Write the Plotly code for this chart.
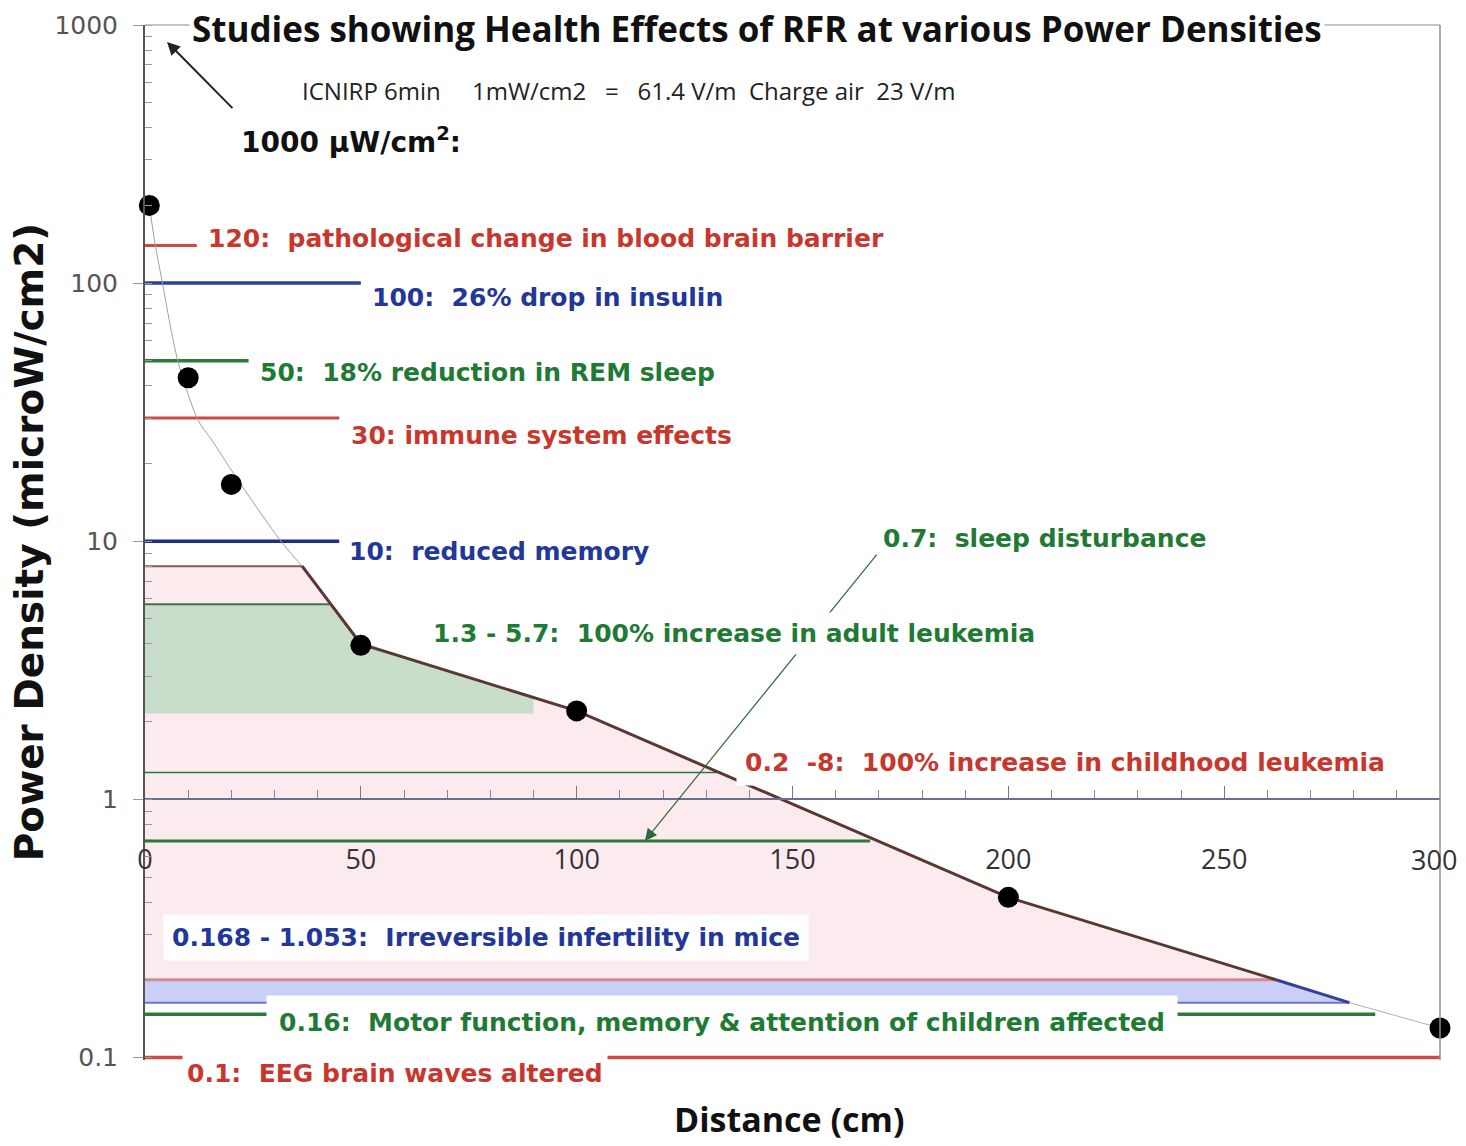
import plotly.graph_objects as go
import math

# ---------------- data ----------------
distance_cm = [1, 10, 20, 50, 100, 200, 300]
power_density = [200, 43, 16.6, 3.95, 2.2, 0.417, 0.13]

# thin fitted curve (upper part) and tail
fit_x = [1, 2.3, 3.9, 7.6, 12.3, 15.5, 22.2, 31.3, 36.4]
fit_y = [200, 143, 103, 50, 29.4, 24.6, 16.6, 10.1, 8]
tail_x = [279, 300]
tail_y = [0.163, 0.13]

# thick boundary curve
bound_x = [36.4, 50, 100, 200, 262]
bound_y = [8, 4, 2.2, 0.417, 0.2]
bound_blue_x = [262, 279]
bound_blue_y = [0.2, 0.163]

# shaded study ranges (polygons)
child_x = [0, 0, 36.4, 50, 100, 200, 262]
child_y = [0.2, 8, 8, 4, 2.2, 0.417, 0.2]
adult_x = [0, 0, 43, 50, 90, 90]
adult_y = [2.15, 5.7, 5.7, 4, 2.45, 2.15]
adult_top_x = [0, 43, 50]
adult_top_y = [5.7, 5.7, 4]
child_top_x = [0, 36.4, 50]
child_top_y = [8, 8, 4]
infert_x = [0, 0, 262, 279]
infert_y = [0.163, 0.2, 0.2, 0.163]

# threshold lines: level and end distance
levels = [140, 100, 50, 30, 10, 1.27, 0.69, 0.2, 0.163, 0.147, 0.1]
level_ends = [12, 50, 24, 45, 45, 132.5, 168, 262, 279, 285, 300]

labels = [
    "120:\u00a0 pathological change in blood brain barrier",
    "100:\u00a0 26% drop in insulin",
    "50:\u00a0 18% reduction in REM sleep",
    "30: immune system effects",
    "10:\u00a0 reduced memory",
    "0.7:\u00a0 sleep disturbance",
    "1.3 - 5.7:\u00a0 100% increase in adult leukemia",
    "0.2\u00a0 -8:\u00a0 100% increase in childhood leukemia",
    "0.168 - 1.053:\u00a0 Irreversible infertility in mice",
    "0.16:\u00a0 Motor function, memory & attention of children affected",
    "0.1:\u00a0 EEG brain waves altered",
]

x_ticks = [0, 50, 100, 150, 200, 250, 300]
x_ticktext = ["0", "50", "100", "150", "200", "250", "300"]
y_ticks = [0.1, 1, 10, 100, 1000]
y_ticktext = ["0.1", "1", "10", "100", "1000"]

# ---------------- styles ----------------
RED = "#c8372d"
BLUE = "#23369a"
GREEN = "#1f7a34"
RED_L = "#cc4a44"
BLUE_L = "#2c40a4"
GREEN_L = "#2b7a3c"
level_colors = [RED_L, BLUE_L, GREEN_L, RED_L, "#1e2f8a", GREEN_L, GREEN_L,
                "#d88a94", "#6a78c8", GREEN_L, RED_L]
level_widths = [3, 3.5, 3.5, 3, 3.5, 1.5, 3, 3, 2, 3.5, 3.5]

Y_LO, Y_HI = -1.01, 3.0
X_AXIS_POS = (0 - Y_LO) / (Y_HI - Y_LO)
LABEL_FONT = "DejaVu Sans"
TICK_FONT = dict(family="Open Sans", size=27, color="#333")
# label placement: (x data, log10 y, colour, borderpad)
label_pos = [
    (14.0, 2.174, RED, 2),
    (52.0, 1.946, BLUE, 2),
    (26.0, 1.655, GREEN, 2),
    (47.0, 1.411, RED, 2),
    (46.5, 0.961, BLUE, 2),
    (170.3, 1.012, GREEN, 2),
    (65.2, 0.643, GREEN, 6),
    (136.8, 0.143, RED, 8),
    (4.2, -0.535, BLUE, 8),
    (28.0, -0.864, GREEN, 12),
    (8.6, -1.062, RED, 4),
]

fig = go.Figure()

fig.add_trace(go.Scatter(x=child_x, y=child_y, fill="toself", mode="lines",
                         line=dict(width=0), fillcolor="rgba(240,165,178,0.22)",
                         hoverinfo="skip", showlegend=False))
fig.add_trace(go.Scatter(x=adult_x, y=adult_y, fill="toself", mode="lines",
                         line=dict(width=0), fillcolor="rgba(165,212,178,0.6)",
                         hoverinfo="skip", showlegend=False))
fig.add_trace(go.Scatter(x=infert_x, y=infert_y, fill="toself", mode="lines",
                         line=dict(width=0), fillcolor="rgba(165,175,240,0.6)",
                         hoverinfo="skip", showlegend=False))

for lv, end, c, w in zip(levels, level_ends, level_colors, level_widths):
    fig.add_trace(go.Scatter(x=[0, end], y=[lv, lv], mode="lines",
                             line=dict(color=c, width=w), hoverinfo="skip",
                             showlegend=False))

fig.add_trace(go.Scatter(x=child_top_x, y=child_top_y, mode="lines",
                         line=dict(color="#8a5a50", width=2), showlegend=False))
fig.add_trace(go.Scatter(x=adult_top_x, y=adult_top_y, mode="lines",
                         line=dict(color="#4e6e50", width=2), showlegend=False))

fig.add_trace(go.Scatter(x=fit_x, y=fit_y, mode="lines",
                         line=dict(color="#a0a0a0", width=1, shape="spline",
                                   smoothing=0.8),
                         showlegend=False))
fig.add_trace(go.Scatter(x=tail_x, y=tail_y, mode="lines",
                         line=dict(color="#b0b0b0", width=1), showlegend=False))
fig.add_trace(go.Scatter(x=bound_x, y=bound_y, mode="lines",
                         line=dict(color="#5a3832", width=3), showlegend=False))
fig.add_trace(go.Scatter(x=bound_blue_x, y=bound_blue_y, mode="lines",
                         line=dict(color="#34409a", width=3), showlegend=False))

fig.add_trace(go.Scatter(x=distance_cm, y=power_density, mode="markers",
                         marker=dict(color="black", size=21), cliponaxis=False,
                         showlegend=False))

ann = []
# arrows first (so label boxes sit above them)
ann.append(dict(x=5.1, y=math.log10(860), ax=20.6, ay=math.log10(470),
                xref="x", yref="y", axref="x", ayref="y", text="",
                showarrow=True, arrowhead=2, arrowsize=1.3, arrowwidth=2,
                arrowcolor="#222"))
ann.append(dict(x=115.8, y=math.log10(0.69), ax=169.8, ay=math.log10(9.0),
                xref="x", yref="y", axref="x", ayref="y", text="",
                showarrow=True, arrowhead=2, arrowsize=2, arrowwidth=1.2,
                arrowcolor="#2f6a3c"))

for txt, (lx, ly, col, pad) in zip(labels, label_pos):
    ann.append(dict(x=lx / 300.0, y=(ly - Y_LO) / (Y_HI - Y_LO),
                    xref="paper", yref="paper", xanchor="left",
                    yanchor="middle", text="<b>" + txt + "</b>",
                    showarrow=False, bgcolor="white", borderpad=pad,
                    font=dict(family=LABEL_FONT, size=25, color=col)))

ann.append(dict(x=35.8, y=2.748, xref="x", yref="y", xanchor="left",
                yanchor="middle", showarrow=False,
                text="ICNIRP 6min\u00a0\u00a0\u00a0\u00a0 1mW/cm2\u00a0\u00a0 =\u00a0\u00a0 61.4 V/m\u00a0 Charge air\u00a0 23 V/m",
                font=dict(family="Open Sans", size=24, color="#222")))
ann.append(dict(x=21.7, y=2.554, xref="x", yref="y", xanchor="left",
                yanchor="middle", showarrow=False,
                text="<b>1000 \u00b5W/cm<sup>2</sup>:</b>",
                font=dict(family=LABEL_FONT, size=28, color="#111")))

# last x tick label, nudged so it stays inside the page edge
ann.append(dict(x=x_ticks[-1], y=X_AXIS_POS, xref="x", yref="paper",
                xanchor="center", yanchor="middle", xshift=-6, yshift=-60,
                showarrow=False, text=x_ticktext[-1], font=TICK_FONT))

# title
ann.append(dict(x=0.4726, y=0.997, xref="paper", yref="paper", xanchor="center",
                yanchor="middle", showarrow=False, bgcolor="white", borderpad=2,
                text="<b>Studies showing Health Effects of RFR at various Power Densities</b>",
                font=dict(family="Open Sans", size=35, color="#111")))
# axis titles
ann.append(dict(x=-0.089, y=0.5, xref="paper", yref="paper", xanchor="center",
                yanchor="middle", showarrow=False, textangle=-90,
                text="<b>Power Density (microW/cm2)</b>",
                font=dict(family="DejaVu Sans", size=39, color="#111")))
ann.append(dict(x=0.497, y=-0.057, xref="paper", yref="paper", xanchor="center",
                yanchor="middle", showarrow=False,
                text="<b>Distance (cm)</b>",
                font=dict(family="Open Sans", size=34, color="#111")))

# the page body adds an 8 px margin around the figure
fig.update_layout(
    width=1458, height=1130, autosize=False,
    margin=dict(l=137, r=26, t=17, b=78, autoexpand=False),
    paper_bgcolor="white", plot_bgcolor="white",
    annotations=ann,
    shapes=[
        dict(type="line", xref="paper", yref="paper", x0=0, x1=1,
             y0=1, y1=1, line=dict(color="#b0b0b0", width=1.5)),
        dict(type="line", xref="paper", yref="paper", x0=1, x1=1, y0=0, y1=1,
             line=dict(color="#909090", width=1.5)),
    ],
    xaxis=dict(range=[0, 300], anchor="free",
               position=X_AXIS_POS, showline=True,
               automargin=False, ticklabeloverflow="allow",
               linecolor="#6a7090", linewidth=2, ticks="inside", ticklen=12,
               tickcolor="#777", tickvals=x_ticks,
               ticktext=x_ticktext[:-1] + [""],
               showgrid=False, zeroline=False,
               tickfont=TICK_FONT,
               ticklabelstandoff=36,
               minor=dict(ticks="inside", dtick=10, ticklen=8, tickcolor="#888",
                          showgrid=False)),
    yaxis=dict(type="log", range=[Y_LO, Y_HI], showline=True, linecolor="#555",
               automargin=False,
               linewidth=2, ticks="outside", ticklen=10, tickcolor="#999",
               tickvals=y_ticks, ticktext=y_ticktext, showgrid=False,
               zeroline=False, ticklabelstandoff=10,
               tickfont=dict(family="DejaVu Sans", size=25, color="#555"),
               minor=dict(ticks="inside", ticklen=7, tickcolor="#999",
                          dtick="D1", showgrid=False)),
)

fig.write_html("out.html")
